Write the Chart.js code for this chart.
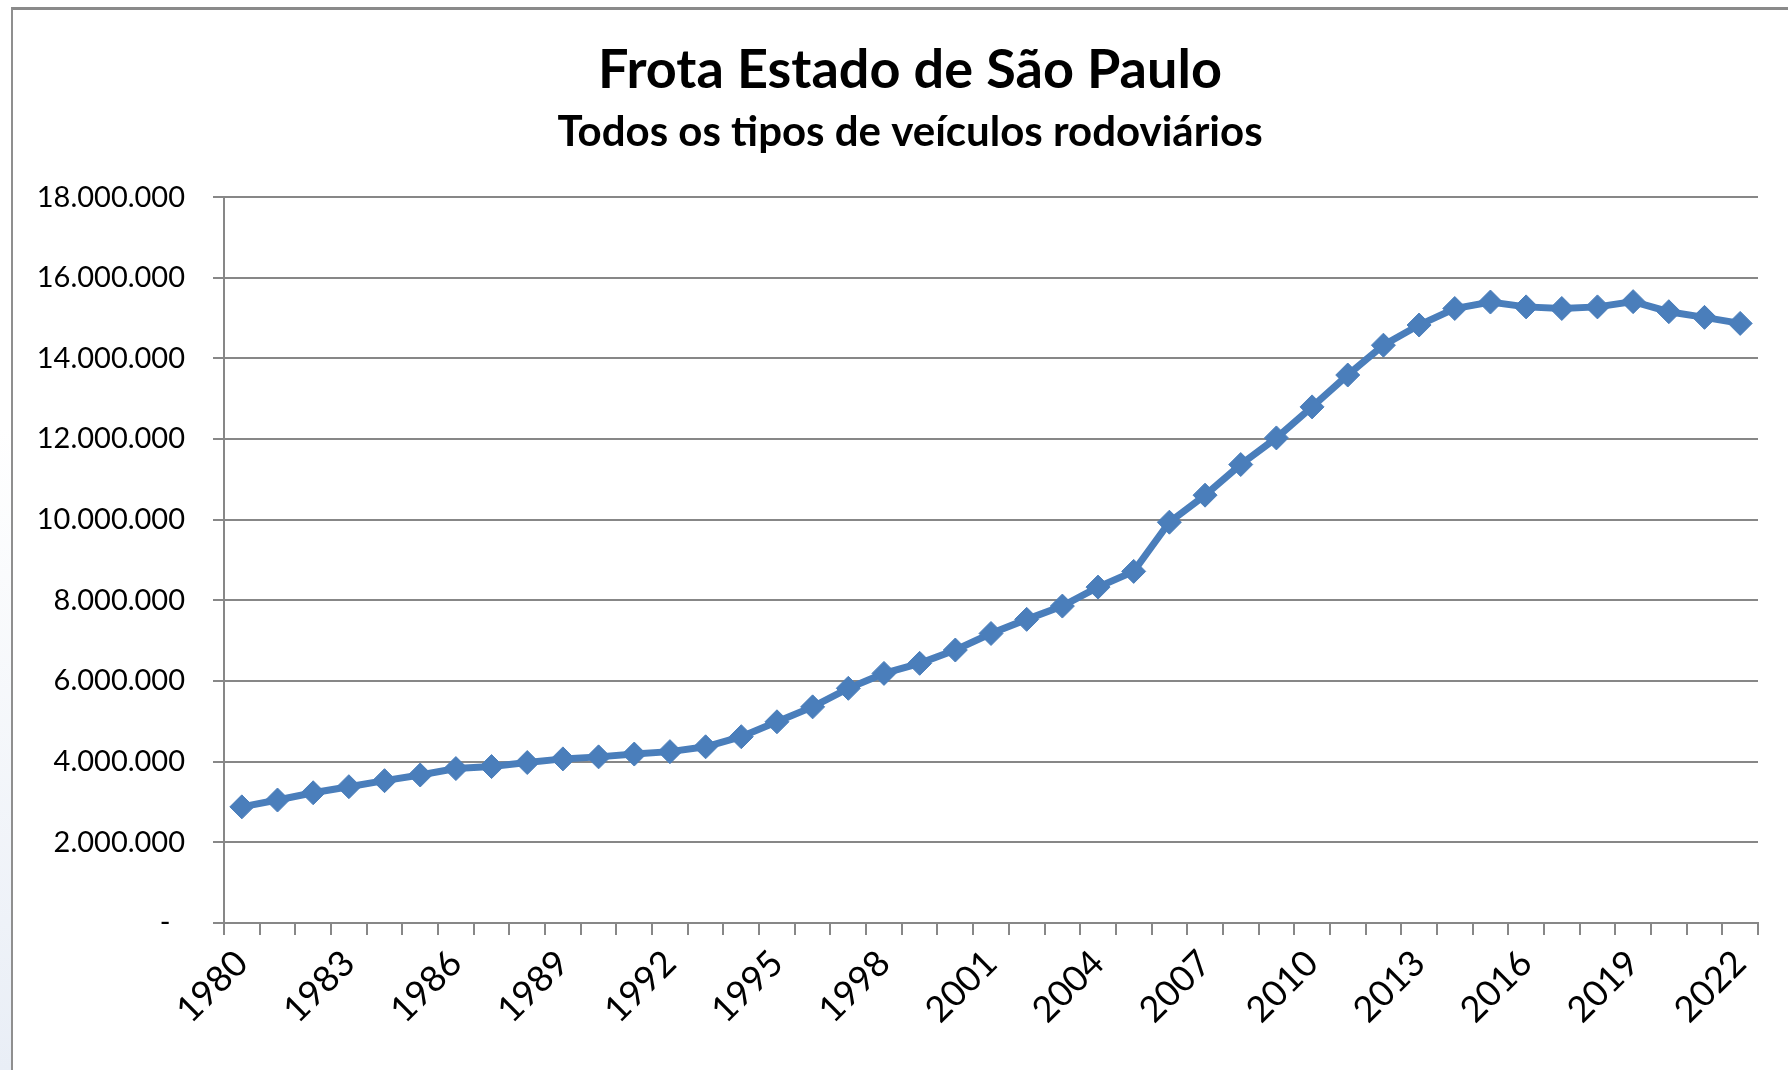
<!DOCTYPE html>
<html>
<head>
<meta charset="utf-8">
<title>Frota Estado de São Paulo</title>
<script src="https://cdn.jsdelivr.net/npm/chart.js@4.4.1/dist/chart.umd.min.js"></script>
<style>
  html, body { margin: 0; padding: 0; background: #fff; overflow: hidden; }
  #wrap { position: relative; width: 1788px; height: 1070px; overflow: hidden; }
  #chart { position: absolute; left: 0; top: 0; }
  /* chart frame, cut off on the right like the screenshot */
  #frame {
    position: absolute; left: 11px; top: 7px; width: 1800px; height: 1100px;
    border-top: 3px solid #8a8a8a; border-left: 2px solid #8f8f8f;
    pointer-events: none;
  }
  #side {
    position: absolute; left: 0; top: 0; width: 11px; height: 1070px;
    background: linear-gradient(#ffffff 40%, #e9eef6);
  }
</style>
</head>
<body>
<div id="wrap">
  <div id="side"></div>
  <canvas id="chart" width="1810" height="1070"></canvas>
  <div id="frame"></div>
</div>
<script>
// years 1980 - 2022
const years = []
for (let y = 1980; y <= 2022; y++) years.push(String(y))

// frota total (veiculos)
const frota = [
  2880000, 3050000, 3230000, 3380000, 3530000, 3670000, 3830000, 3880000,
  3980000, 4070000, 4120000, 4190000, 4250000, 4370000, 4620000, 4990000,
  5360000, 5820000, 6190000, 6440000, 6770000, 7180000, 7530000, 7860000,
  8330000, 8720000, 9940000, 10610000, 11370000, 12030000, 12800000, 13590000,
  14330000, 14830000, 15240000, 15400000, 15280000, 15240000, 15280000, 15410000,
  15160000, 15020000, 14870000
]

const yMin = 0
const yMax = 18000000
const yStep = 2000000

const lineColor = "#4a7ebb"
const gridColor = "#878787"

function fmtBR(v) {
  if (v === 0) return "-\u2002"
  return String(v).replace(/\B(?=(\d{3})+(?!\d))/g, ".")
}

const ctx = document.getElementById("chart")
new Chart(ctx, {
  type: "line",
  data: {
    labels: years,
    datasets: [{
      data: frota,
      yAxisID: "y",
      borderColor: lineColor,
      backgroundColor: lineColor,
      borderWidth: 7,
      tension: 0,
      pointStyle: "rectRot",
      pointRadius: 12,
      pointBorderWidth: 1,
      pointBackgroundColor: lineColor,
      pointBorderColor: lineColor
    }]
  },
  options: {
    responsive: false,
    animation: false,
    devicePixelRatio: 1,
    layout: { padding: { left: 12, right: 2, top: 0, bottom: 0 } },
    plugins: {
      legend: { display: false },
      tooltip: { enabled: false },
      title: {
        display: true,
        text: "Frota Estado de São Paulo",
        color: "#000",
        font: { family: "Lato", size: 54, weight: "bold" },
        padding: { top: 38, bottom: 2 }
      },
      subtitle: {
        display: true,
        text: "Todos os tipos de veículos rodoviários",
        color: "#000",
        font: { family: "Lato", size: 42, weight: "bold" },
        padding: { top: 2, bottom: 40 }
      }
    },
    scales: {
      x: {
        type: "category",
        offset: true,
        grid: {
          offset: true,
          drawOnChartArea: false,
          drawTicks: true,
          tickLength: 12,
          color: gridColor,
          lineWidth: 2
        },
        border: { display: true, color: gridColor, width: 2 },
        ticks: {
          autoSkip: false,
          maxRotation: 45,
          minRotation: 45,
          padding: 7,
          color: "#000",
          font: { family: "Lato", size: 36 },
          callback: function (val, i) {
            return i % 3 === 0 ? years[i] : ""
          }
        },
        afterFit: (scale) => { scale.height = 147 }
      },
      y: {
        min: yMin,
        max: yMax,
        grid: {
          color: gridColor,
          lineWidth: 2,
          drawTicks: true,
          tickLength: 11
        },
        border: { display: true, color: gridColor, width: 2 },
        ticks: {
          stepSize: yStep,
          padding: 28,
          color: "#000",
          font: { family: "Lato", size: 29 },
          callback: (v) => fmtBR(v)
        },
        afterFit: (scale) => { scale.width = 212 }
      },
      // empty strip on the right so the title centres on the full (cropped) frame
      yPad: {
        position: "right",
        display: true,
        grid: { display: false },
        border: { display: false },
        ticks: { display: false },
        afterFit: (scale) => { scale.width = 50 }
      }
    }
  }
})
</script>
</body>
</html>
